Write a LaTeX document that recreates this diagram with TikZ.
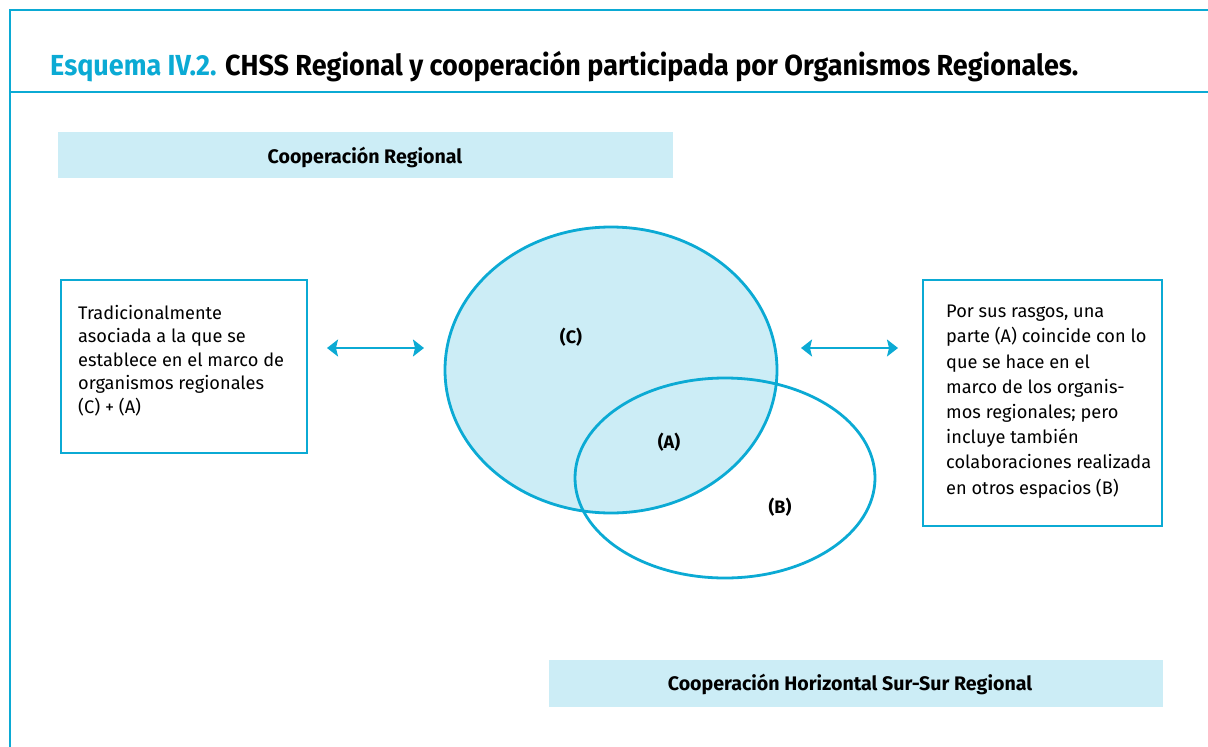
\documentclass[tikz,border=0pt]{standalone}
\usepackage{fontspec}
\setmainfont{Fira Sans}
\newfontfamily\titlefont[FakeStretch=0.93]{Fira Sans}
\usetikzlibrary{arrows.meta}
\definecolor{cyanline}{HTML}{0BAAD4}
\definecolor{lightfill}{HTML}{CCEDF6}
\tikzset{
  frame/.style={draw=cyanline, line width=2.8pt},
  txtbox/.style={draw=cyanline, line width=2.6pt, fill=white},
  hdrbox/.style={fill=lightfill, draw=none},
  hdrtext/.style={font=\fontsize{19.6}{22}\selectfont\bfseries, inner sep=0pt},
  bodytext/.style={align=left, inner sep=0pt, anchor=north west},
  lbl/.style={font=\fontsize{18}{20}\selectfont\bfseries, inner sep=0pt},
  biarrow/.style={draw=cyanline, line width=1.6pt, {Stealth[length=11pt,width=17pt,inset=2pt]}-{Stealth[length=11pt,width=17pt,inset=2pt]}},
  ellC/.style={draw=cyanline, line width=2.8pt, fill=lightfill},
  ellB/.style={draw=cyanline, line width=2.8pt}
}
\begin{document}
\begin{tikzpicture}[x=1pt,y=-1pt]
\useasboundingbox (0,0) rectangle (1208,747);
% frame
\draw[frame] (1208,10) -- (10,10) -- (10,747);
\draw[frame] (10,92) -- (1208,92);
% title
\node[anchor=base west, inner sep=0pt, font=\titlefont\fontsize{29}{32}\selectfont\bfseries] (title) at (50,75)
  {\textcolor{cyanline}{Esquema IV.2.} CHSS Regional y cooperación participada por Organismos Regionales.};
% header boxes
\path[hdrbox] (58,132) rectangle (673,178);
\node[hdrtext] (hdrC) at (365,157) {Cooperación Regional};
\path[hdrbox] (549,660) rectangle (1163,707);
\node[hdrtext] (hdrB) at (850,684) {Cooperación Horizontal Sur-Sur Regional};
% text boxes
\draw[txtbox] (61,280) rectangle (307,453);
\node[bodytext, font=\fontsize{18.2}{23.5}\selectfont] (lefttxt) at (78,305) {Tradicionalmente\\asociada a la que se\\establece en el marco de\\organismos regionales\\(C) + (A)};
\draw[txtbox] (923,280) rectangle (1162,526);
\node[bodytext, font=\fontsize{18.2}{25.2}\selectfont] (righttxt) at (946,305) {Por sus rasgos, una\\parte (A) coincide con lo\\que se hace en el\\marco de los organis-\\mos regionales; pero\\incluye también\\colaboraciones realizada\\en otros espacios (B)};
% ellipses
\draw[ellC] (611,370) ellipse [x radius=166, y radius=143];
\draw[ellB] (725,478) ellipse [x radius=150, y radius=100];
\node[lbl] (lC) at (571,337) {(C)};
\node[lbl] (lA) at (669,442) {(A)};
\node[lbl] (lB) at (780,507) {(B)};
% arrows
\coordinate (a1) at (327,348);
\coordinate (a2) at (424,348);
\coordinate (b1) at (801,348);
\coordinate (b2) at (898,348);
\draw[biarrow] (a1) -- (a2);
\draw[biarrow] (b1) -- (b2);
\end{tikzpicture}
\end{document}
